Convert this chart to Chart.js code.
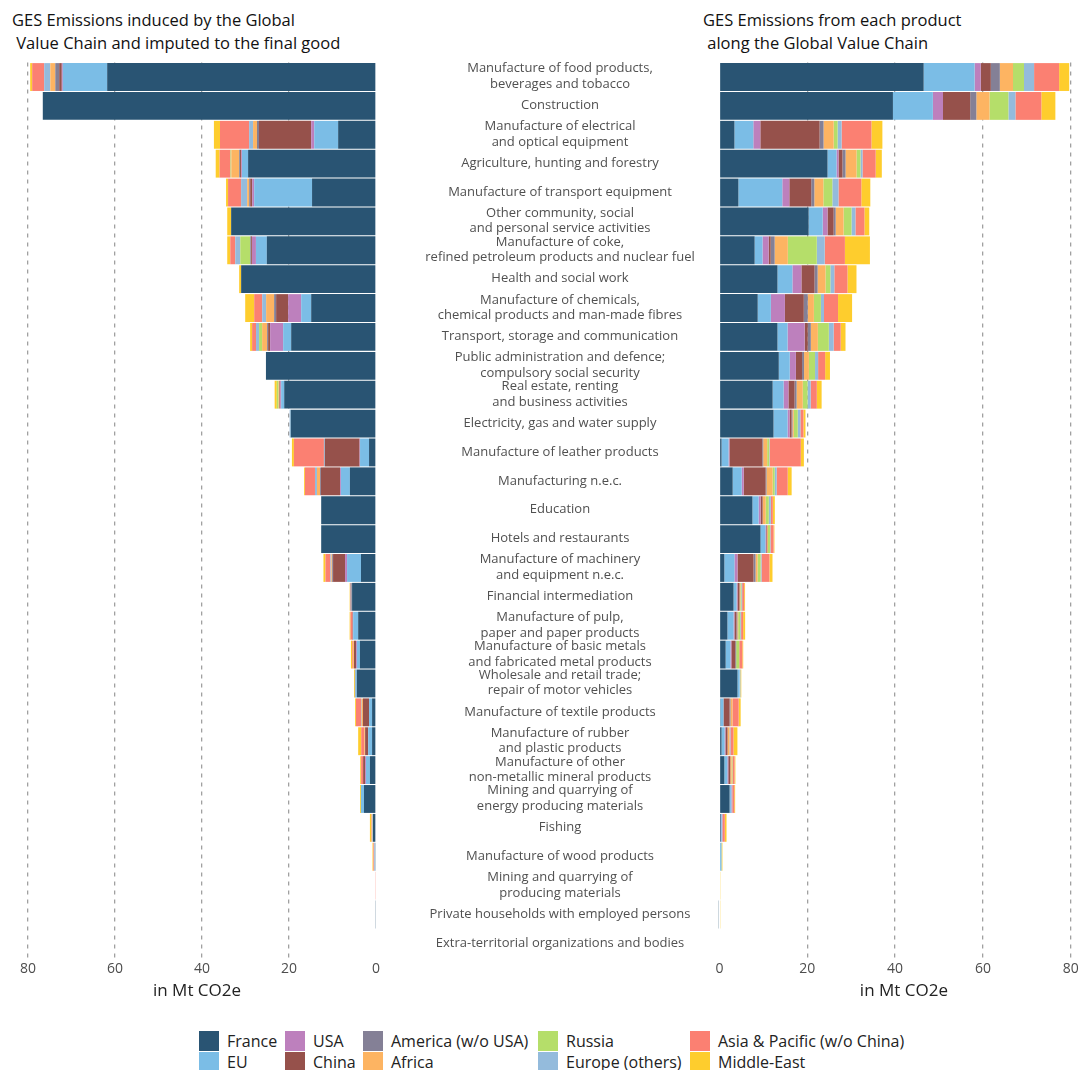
<!DOCTYPE html>
<html><head><meta charset="utf-8">
<script src="https://cdn.jsdelivr.net/npm/chart.js@4.4.0/dist/chart.umd.min.js"></script>
<style>
html,body{margin:0;padding:0;width:1082px;height:1070px;overflow:hidden;background:#fff;font-family:"Open Sans",sans-serif;}
#wrap{position:relative;width:1082px;height:1070px;overflow:hidden;}
.title{position:absolute;top:8px;font-size:16.5px;line-height:23px;color:#111;white-space:pre;}
#cl{position:absolute;left:0;top:0;}
#cr{position:absolute;left:380px;top:0;}
#legend{position:absolute;left:199px;top:1030px;display:grid;grid-template-rows:21px 21px;grid-auto-flow:column;grid-template-columns:86px 78px 175px 152px auto;font-size:16px;color:#222;}
.item{display:flex;align-items:center;white-space:nowrap;}
.sw{width:20px;height:20px;margin-right:8px;flex:none;}
</style></head>
<body>
<div id="wrap">
  <div class="title" style="left:12px;">GES Emissions induced by the Global
 Value Chain and imputed to the final good</div>
  <div class="title" style="left:703px;">GES Emissions from each product
 along the Global Value Chain</div>
  <canvas id="cl" width="400" height="1020"></canvas>
  <canvas id="cr" width="720" height="1020"></canvas>
  <div id="legend"></div>
</div>
<script>
const categories = [
 "Manufacture of food products,\nbeverages and tobacco",
 "Construction",
 "Manufacture of electrical\nand optical equipment",
 "Agriculture, hunting and forestry",
 "Manufacture of transport equipment",
 "Other community, social\nand personal service activities",
 "Manufacture of coke,\nrefined petroleum products and nuclear fuel",
 "Health and social work",
 "Manufacture of chemicals,\nchemical products and man-made fibres",
 "Transport, storage and communication",
 "Public administration and defence;\ncompulsory social security",
 "Real estate, renting\nand business activities",
 "Electricity, gas and water supply",
 "Manufacture of leather products",
 "Manufacturing n.e.c.",
 "Education",
 "Hotels and restaurants",
 "Manufacture of machinery\nand equipment n.e.c.",
 "Financial intermediation",
 "Manufacture of pulp,\npaper and paper products",
 "Manufacture of basic metals\nand fabricated metal products",
 "Wholesale and retail trade;\nrepair of motor vehicles",
 "Manufacture of textile products",
 "Manufacture of rubber\nand plastic products",
 "Manufacture of other\nnon-metallic mineral products",
 "Mining and quarrying of\nenergy producing materials",
 "Fishing",
 "Manufacture of wood products",
 "Mining and quarrying of\nproducing materials",
 "Private households with employed persons",
 "Extra-territorial organizations and bodies"
];

const seriesNames = ["France","EU","USA","China","America (w/o USA)","Africa","Russia","Europe (others)","Asia & Pacific (w/o China)","Middle-East"];
const seriesColors = ["#295473","#7bbde6","#bd80bd","#96514b","#848096","#fdb462","#b5de6a","#94bbdc","#fb8072","#fecd2d"];

// Left panel: emissions induced by the GVC and imputed to the final good (Mt CO2e)
const leftFrance  = [61.8,76.6,8.7,29.4,14.7,33.3,25.1,31.0,14.9,19.5,25.3,21.1,19.6,1.6,6.0,12.6,12.6,3.45,5.5,4.1,3.7,4.4,0.9,0.9,1.4,2.76,0.7,0.2,0,0.2,0];
const leftEU      = [10.2,0,5.5,1.4,13.3,0,2.5,0,2.3,1.84,0,0.7,0.1,2.07,2.07,0,0,3.2,0.1,1.15,0.7,0.3,0.7,0.9,0.9,0.7,0.1,0,0,0,0];
const leftUSA     = [0.23,0,0.7,0.15,0.46,0,0.9,0,3.0,3.0,0,0.2,0,0.1,0.2,0,0,0.46,0,0.05,0.2,0,0,0,0.2,0,0,0,0,0,0];
const leftChina   = [0.6,0,12.0,0.3,0.46,0,0.2,0,2.76,0.46,0,0.2,0,8.0,4.4,0,0,2.76,0.15,0.1,0.46,0,1.4,0.7,0.46,0,0,0,0,0,0];
const leftAmerica = [0.9,0,0.46,0.2,0.23,0,0.2,0,0.46,0.23,0,0,0,0,0.2,0,0,0.2,0.1,0,0,0.15,0,0,0,0,0,0,0,0,0];
const leftAfrica  = [1.15,0,0.9,1.8,0.46,0,0,0,1.84,1.15,0,0.2,0,0,0.7,0,0,0.2,0,0,0.2,0,0.3,0.2,0,0,0.2,0,0,0,0];
const leftRussia  = [0,0,0,0.2,0,0,2.3,0,0,0.7,0,0.4,0,0,0,0,0,0,0,0,0,0,0,0,0,0,0,0,0,0,0];
const leftEurOth  = [1.4,0,0.9,0,1.4,0,1.15,0,0.9,0.7,0,0,0.15,0.2,0.46,0,0,0.2,0,0,0,0,0.15,0,0,0,0,0.2,0,0,0];
const leftAsia    = [2.76,0,6.7,2.5,3.0,0,1.15,0,1.84,0.9,0,0,0,6.9,2.3,0,0,1.15,0.1,0.46,0.2,0,1.15,0.7,0.46,0,0.1,0.2,0.2,0,0];
const leftME      = [0.46,0,1.4,0.9,0.46,0.9,0.7,0.46,2.07,0.46,0,0.5,0,0.46,0.2,0,0,0.46,0.1,0.2,0.3,0.2,0.2,0.7,0.2,0.2,0.3,0.2,0,0,0];

// Right panel: emissions from each product along the GVC (Mt CO2e)
const rightFrance  = [46.5,39.5,3.4,24.6,4.3,20.3,8.0,13.2,8.7,13.2,13.5,12.1,12.3,0.46,3.0,7.5,9.35,1.1,3.2,1.8,1.4,4.1,0.2,0.46,1.1,2.3,0.3,0,0,-0.2,0];
const rightEU      = [11.6,9.1,4.3,2.05,10.0,3.2,1.8,3.4,3.0,2.3,2.5,2.5,3.2,1.6,2.05,1.4,1.1,2.3,0.7,1.4,1.1,0.46,0.7,0.7,0.7,0.3,0.2,0.46,0,0,0];
const rightUSA     = [1.4,2.3,1.6,0.46,1.6,1.1,1.4,2.05,3.2,3.9,1.4,1.1,0.46,0.2,0.46,0.46,0.2,0.7,0.2,0.2,0.2,0,0,0.2,0.2,0.1,0.2,0,0,0,0];
const rightChina   = [2.3,6.2,13.5,0.9,5.0,1.4,0.46,3.0,4.3,0.7,1.4,1.4,0.46,7.5,5.0,0.46,0.2,3.65,0.46,0.46,0.9,0,1.4,0.46,0.46,0,0,0,0,0,0];
const rightAmerica = [2.05,1.4,0.9,0.7,0.7,0.46,0.9,0.7,0.9,0.7,0.46,0.46,0.2,0.2,0.2,0,0,0.46,0,0.2,0.2,0,0.2,0,0,0,0,0,0,0,0];
const rightAfrica  = [3.0,3.0,2.3,2.5,2.05,1.8,3.0,1.8,1.4,1.6,1.1,1.4,0.3,0.9,1.4,0.7,0.2,0.46,0.2,0.2,0,0,0.46,0.46,0.3,0,0.1,0,0,0,0];
const rightRussia  = [2.5,4.3,0.9,0.9,2.05,1.8,6.6,1.1,1.6,2.5,1.4,1.1,0.9,0.46,0.46,0.7,0.46,0.7,0.2,0.46,0.7,0,0,0,0.2,0,0,0,0,0,0];
const rightEurOth  = [2.3,1.6,0.9,0.46,1.4,0.9,1.8,0.9,0.7,1.1,0.7,0.7,0.6,0.1,0.46,0.46,0.1,0.2,0.2,0.2,0,0.2,0,0.2,0,0.2,0,0,0,0,0];
const rightAsia    = [5.7,5.9,6.8,3.0,5.2,2.05,4.6,3.0,3.2,1.6,1.6,1.4,0.7,7.1,2.5,0.46,0.7,1.8,0.46,0.46,0.7,0,1.4,0.7,0.46,0.46,0.4,0,0,0,0];
const rightME      = [2.3,3.2,2.5,1.4,2.05,1.1,5.7,2.05,3.2,1.1,1.1,1.1,0.46,0.7,0.9,0.46,0.2,0.7,0.2,0.46,0.2,0.2,0.46,0.9,0.2,0.2,0.4,0.2,0.2,0.2,0];

const xTicks = [0,20,40,60,80];
const axisTitle = "in Mt CO2e";

const leftSeries  = [leftFrance,leftEU,leftUSA,leftChina,leftAmerica,leftAfrica,leftRussia,leftEurOth,leftAsia,leftME];
const rightSeries = [rightFrance,rightEU,rightUSA,rightChina,rightAmerica,rightAfrica,rightRussia,rightEurOth,rightAsia,rightME];

function buildDatasets(series){
  return series.map((d,i)=>({
    label: seriesNames[i], data: d, backgroundColor: seriesColors[i],
    borderWidth: 0, barPercentage: 0.965, categoryPercentage: 1, clip: false
  }));
}

function makeOptions(reverse, max, padding){
  return {
    indexAxis:'y', responsive:false, animation:false, events:[],
    layout:{padding},
    plugins:{legend:{display:false}, tooltip:{enabled:false}},
    scales:{
      y:{type:'category', stacked:true, display:false, offset:true},
      x:{type:'linear', stacked:true, reverse, min:0, max, z:1,
        afterBuildTicks: s => { s.ticks = xTicks.map(v=>({value:v})); },
        grid:{color: c => (c.tick && c.tick.value===0) ? 'rgba(0,0,0,0)' : '#a0a0a0', lineWidth:1.3, drawTicks:false},
        border:{display:false, dash:[4,5]},
        ticks:{padding:3, color:'#4d4d4d', font:{family:'Open Sans', size:14}},
        title:{display:true, text:axisTitle, color:'#222', font:{family:'Open Sans', size:17}, padding:{top:0, bottom:4}}
      }
    }
  };
}

const centerLabels = {
  id:'centerLabels',
  afterDraw(chart){
    const ctx = chart.ctx, ys = chart.scales.y;
    ctx.save();
    ctx.font = '13px "Open Sans"';
    ctx.fillStyle = '#505050';
    ctx.textAlign = 'center';
    ctx.textBaseline = 'middle';
    categories.forEach((c,i)=>{
      const lines = c.split('\n');
      const py = ys.getPixelForValue(i);
      lines.forEach((ln,k)=>ctx.fillText(ln, 180, py - 0.5 + (k-(lines.length-1)/2)*15.5));
    });
    ctx.restore();
  }
};

new Chart(document.getElementById('cl'), {
  type:'bar',
  data:{labels:categories, datasets:buildDatasets(leftSeries)},
  options:makeOptions(true, 82.3, {left:18, right:24, top:62.6, bottom:15})
});

new Chart(document.getElementById('cr'), {
  type:'bar',
  data:{labels:categories, datasets:buildDatasets(rightSeries)},
  options:makeOptions(false, 84, {left:339.5, right:11.7, top:62.6, bottom:15}),
  plugins:[centerLabels]
});

const leg = document.getElementById('legend');
seriesNames.forEach((n,i)=>{
  const it = document.createElement('div'); it.className='item';
  const sw = document.createElement('span'); sw.className='sw'; sw.style.background=seriesColors[i];
  const tx = document.createElement('span'); tx.textContent=n;
  it.appendChild(sw); it.appendChild(tx); leg.appendChild(it);
});
</script>
</body></html>
